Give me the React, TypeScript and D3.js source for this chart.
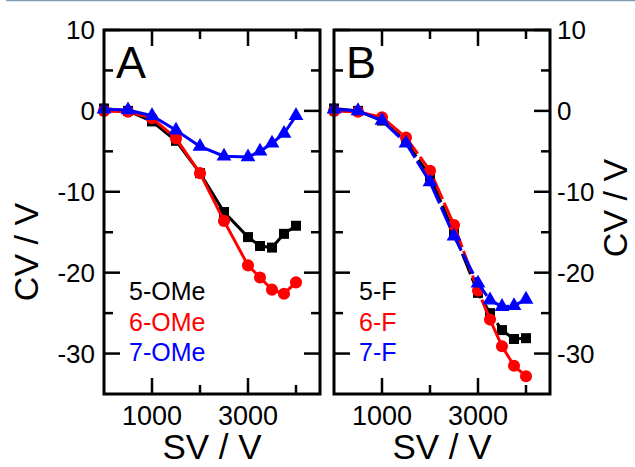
import React from 'react'
import { scaleLinear, line, symbol, symbolSquare, symbolCircle, symbolTriangle } from 'd3'

// SV steps shared by every series
const svValues = [0, 500, 1000, 1500, 2000, 2500, 3000, 3250, 3500, 3750, 4000]

// panel A
const omeFive = [0.3, 0, -1.3, -3.7, -7.7, -12.5, -15.6, -16.7, -16.9, -15.2, -14.2]
const omeSix = [0, -0.1, -0.9, -3.4, -7.7, -13.6, -19.1, -20.6, -22.1, -22.6, -21.2]
const omeSeven = [0.2, 0.1, -0.6, -2.4, -4.4, -5.6, -5.7, -5.0, -4.0, -2.8, -0.6]

// panel B
const fFive = [0.3, 0, -1.2, -3.8, -8.1, -15.1, -22.5, -25.0, -27.1, -28.2, -28.1]
const fSix = [0, -0.1, -0.8, -3.3, -7.4, -14.1, -22.2, -25.8, -29.1, -31.5, -32.8]
const fSeven = [0.2, 0, -1.2, -4.0, -8.8, -15.5, -21.3, -23.4, -24.2, -24.1, -23.3]

const namesA = ['5-OMe', '6-OMe', '7-OMe']
const namesB = ['5-F', '6-F', '7-F']
const colors = ['#000000', '#ff0000', '#0000ff']

const xMajor = [1000, 3000]
const xMinor = [2000, 4000]
const yMajor = [10, 0, -10, -20, -30]
const yMinor = [5, -5, -15, -25]

const top = 30
const bottom = 394
const font = '"Liberation Sans", Arial, sans-serif'

const y = scaleLinear().domain([-35, 10]).range([bottom, top])

const markers = [
  symbol(symbolSquare, 100)(),
  symbol(symbolCircle, 115)(),
  symbol(symbolTriangle, 95)(),
]

const Panel = ({ left, right, letter, series, names, dashed, side }) => {
  const x = scaleLinear().domain([0, 4500]).range([left, right])
  const path = line().x((d, i) => x(svValues[i])).y(d => y(d))

  return (
    <g>
      {/* ticks, all pointing inwards */}
      {xMajor.map(v => (
        <g key={'xM' + v} stroke="#000" strokeWidth={2.5}>
          <line x1={x(v)} x2={x(v)} y1={bottom} y2={bottom - 16} />
          <line x1={x(v)} x2={x(v)} y1={top} y2={top + 16} />
        </g>
      ))}
      {xMinor.map(v => (
        <g key={'xm' + v} stroke="#000" strokeWidth={2.5}>
          <line x1={x(v)} x2={x(v)} y1={bottom} y2={bottom - 9} />
          <line x1={x(v)} x2={x(v)} y1={top} y2={top + 9} />
        </g>
      ))}
      {yMajor.map(v => (
        <g key={'yM' + v} stroke="#000" strokeWidth={2.5}>
          <line x1={left} x2={left + 16} y1={y(v)} y2={y(v)} />
          <line x1={right} x2={right - 16} y1={y(v)} y2={y(v)} />
        </g>
      ))}
      {yMinor.map(v => (
        <g key={'ym' + v} stroke="#000" strokeWidth={2.5}>
          <line x1={left} x2={left + 9} y1={y(v)} y2={y(v)} />
          <line x1={right} x2={right - 9} y1={y(v)} y2={y(v)} />
        </g>
      ))}

      {series.map((s, k) => (
        <g key={'s' + k}>
          <path
            d={path(s)}
            fill="none"
            stroke={colors[k]}
            strokeWidth={3}
            strokeDasharray={dashed ? '22 4' : null}
          />
          {s.map((v, i) => (
            <path
              key={i}
              d={markers[k]}
              transform={`translate(${x(svValues[i])},${y(v)})`}
              fill={colors[k]}
            />
          ))}
        </g>
      ))}

      <rect x={left} y={top} width={right - left} height={bottom - top}
        fill="none" stroke="#000" strokeWidth={3} />

      <text x={left + 12} y={top + 48} fontSize={45} fontFamily={font}>{letter}</text>

      {names.map((n, k) => (
        <text key={n} x={left + 25} y={300 + k * 30.5} fontSize={25}
          fontFamily={font} fill={colors[k]}>{n}</text>
      ))}

      {xMajor.map(v => (
        <text key={'xl' + v} x={x(v)} y={425} textAnchor="middle"
          fontSize={27} fontFamily={font}>{v}</text>
      ))}
      <text x={(left + right) / 2} y={459} textAnchor="middle" fontSize={35}
        fontFamily={font}>SV / V</text>

      {yMajor.map(v => (
        <text key={'yl' + v}
          x={side === 'left' ? left - 9 : right + 7}
          y={y(v) + 9}
          textAnchor={side === 'left' ? 'end' : 'start'}
          fontSize={26} fontFamily={font}>{v}</text>
      ))}
      <text
        transform={side === 'left' ? 'translate(38,252) rotate(-90)' : 'translate(627,208) rotate(-90)'}
        textAnchor="middle" fontSize={34} fontFamily={font}>CV / V</text>
    </g>
  )
}

const App = () => {
  return (
    <svg width={635} height={467} style={{ position: 'absolute', left: 0, top: 0, background: '#fff' }}>
      <line x1={6} x2={635} y1={0.5} y2={0.5} stroke="#7f9fb2" strokeWidth={1.5} />
      <Panel left={104} right={320} letter="A" series={[omeFive, omeSix, omeSeven]}
        names={namesA} dashed={false} side="left" />
      <Panel left={334} right={550} letter="B" series={[fFive, fSix, fSeven]}
        names={namesB} dashed={true} side="right" />
    </svg>
  )
}

export default App
